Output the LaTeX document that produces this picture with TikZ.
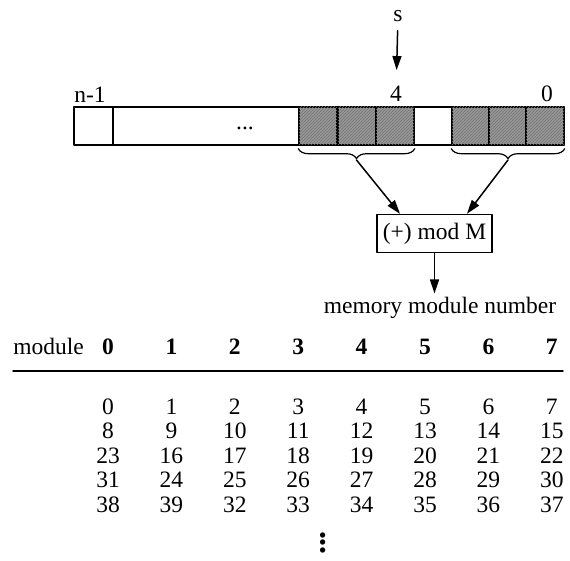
\documentclass[tikz,border=0pt]{standalone}
\usepackage{fontspec}
\setmainfont{Liberation Serif}
\usetikzlibrary{arrows.meta,decorations.pathreplacing,patterns}

\begin{document}
\begin{tikzpicture}[
	x=1pt, y=-1pt,
	every node/.style={font=\fontsize{23.5}{26}\selectfont, inner sep=0pt},
	line cap=round,
	line join=round,
	bitcell/.style={draw, line width=1.4pt, fill=black!40, postaction={pattern=north east lines, pattern color=black!55}, minimum width=38pt, minimum height=38pt},
	arr/.style={-{Triangle[length=14pt,width=9pt]}, line width=1.5pt},
	brc/.style={decorate, decoration={brace, mirror, amplitude=10pt}, line width=1.2pt},
	hdigit/.style={anchor=base, font=\fontsize{23.5}{26}\selectfont\bfseries},
	entry/.style={anchor=base}
	]
	\useasboundingbox (0,0) rectangle (570,561);
	
	% Register
	\draw[line width=1.4pt] (74,107) rectangle (564,145);
	\draw[line width=1.4pt] (113,107) -- (113,145);
	\node (dots) at (245,128) {...};
	
	% Shaded bits
	\node[bitcell] (a1) at (318,126) {};
	\node[bitcell] (a2) at (357,126) {};
	\node[bitcell] (a3) at (395,126) {};
	\node[bitcell] (b1) at (471,126) {};
	\node[bitcell] (b2) at (508,126) {};
	\node[bitcell] (b3) at (545,126) {};
	
	% Bit labels
	\node (nmone) at (90,95) {n-1};
	\node (bfour) at (396,94) {4};
	\node (bzero) at (547,94) {0};
	\node (s) at (398,16) {s};
	\draw[arr, shorten <=9pt, shorten >=16pt] (s) -- (bfour);
	
	% Braces
	\draw[brc] (a1.south west) ++(0,3) -- ([yshift=-3pt]a3.south east);
	\draw[brc] (b1.south west) ++(0,3) -- ([yshift=-3pt]b3.south east);
	\coordinate (ltip) at (356.5,160);
	\coordinate (rtip) at (508,160);
	
	% Adder
	\node[draw, line width=1.4pt, minimum width=115pt, minimum height=38pt] (adder) at (434.5,233.5) {(+) mod M};
	\draw[arr] (ltip) -- ([xshift=-34.5pt]adder.north);
	\draw[arr] (rtip) -- ([xshift=32.5pt]adder.north);
	\node[anchor=base] (mmn) at (440,313) {memory module number};
	\draw[arr, shorten >=3pt] (adder.south) -- (adder.south |- mmn.north);
	
	% Table header
	\node[anchor=base] (module) at (48.5,354) {module};
	\foreach \i in {0,...,7}
		\node[hdigit] (h\i) at (108+63.4*\i,354) {\i};
	\draw[line width=1.4pt] (13,371) -- (563,371);
	
	% Table body
	\foreach \row [count=\r from 0] in {{0,1,2,3,4,5,6,7},{8,9,10,11,12,13,14,15},{23,16,17,18,19,20,21,22},{31,24,25,26,27,28,29,30},{38,39,32,33,34,35,36,37}}
		\foreach \v [count=\c from 0] in \row
			\node[entry] (e\r\c) at (108+63.4*\c,414+24.5*\r) {\v};
	\node[scale=1.9] (vdots) at (323,537) {\vdots};
	
\end{tikzpicture}
\end{document}
